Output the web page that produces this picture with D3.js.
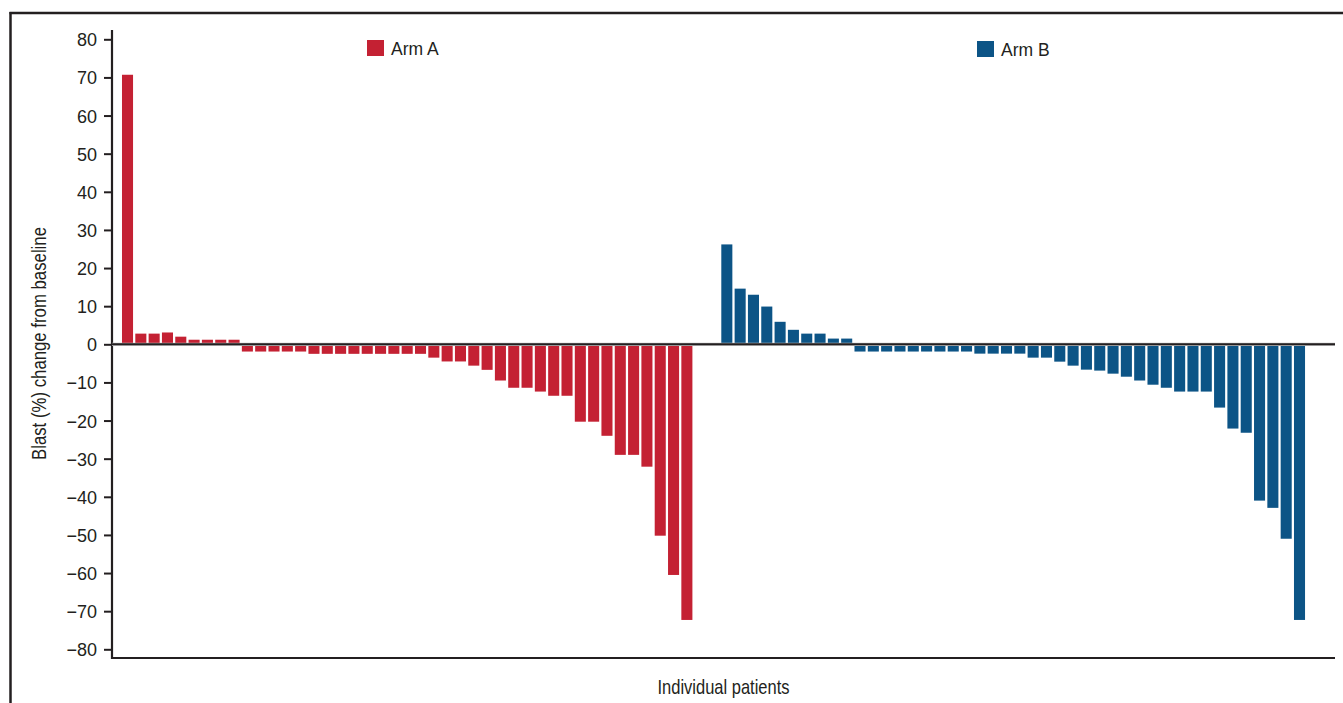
<!DOCTYPE html>
<html>
<head>
<meta charset="utf-8">
<script src="https://cdn.jsdelivr.net/npm/d3@7/dist/d3.min.js"></script>
<style>
  html, body { margin: 0; padding: 0; background: #ffffff; }
  svg { display: block; }
  .tick text { font-family: "Liberation Sans", Arial, Helvetica, sans-serif; font-size: 18px; fill: #231f20; }
</style>
</head>
<body>
<svg id="chart" width="1343" height="703"></svg>
<script>
// Blast percentage change from baseline, one bar per patient, sorted within each arm
const armA = [70.7, 2.8, 2.8, 3.1, 2.0, 1.2, 1.2, 1.2, 1.2,
  -1.9, -1.9, -1.9, -1.9, -1.9,
  -2.5, -2.5, -2.5, -2.5, -2.5, -2.5, -2.5, -2.5, -2.5,
  -3.5, -4.5, -4.5, -5.6, -6.7, -9.5, -11.4, -11.4, -12.4, -13.5, -13.5,
  -20.3, -20.3, -24.0, -29.0, -29.0, -32.1, -50.2, -60.5, -72.3];

const armB = [26.2, 14.6, 13.0, 9.9, 5.9, 3.8, 2.8, 2.8, 1.5, 1.5,
  -1.9, -1.9, -1.9, -1.9, -1.9, -1.9, -1.9, -1.9, -1.9,
  -2.45, -2.45, -2.45, -2.45, -3.5, -3.5,
  -4.55, -5.6, -6.65, -6.9, -7.7, -8.5, -9.5, -10.6, -11.4,
  -12.4, -12.4, -12.4, -16.6, -22.1, -23.2, -41.0, -42.9, -51.0, -72.3];

const armNames = ["Arm A", "Arm B"];
const armColors = ["#c42133", "#0c5486"];
const yTicks = [80, 70, 60, 50, 40, 30, 20, 10, 0, -10, -20, -30, -40, -50, -60, -70, -80];
const yTitle = "Blast (%) change from baseline";
const xTitle = "Individual patients";

// Patient slots: arm A, two empty spacer slots, then arm B
const bars = [
  ...armA.map((v, i) => ({ id: "A" + i, arm: 0, value: v })),
  ...armB.map((v, i) => ({ id: "B" + i, arm: 1, value: v }))
];
const slots = [...armA.map((_, i) => "A" + i), "gap0", "gap1", ...armB.map((_, i) => "B" + i)];

const svg = d3.select("#chart");
const ink = "#231f20";

const plotLeft = 112, plotRight = 1335, plotTop = 30, plotBottom = 658;

const x = d3.scaleBand()
  .domain(slots)
  .range([plotLeft, plotRight])
  .paddingInner(0.17)
  .paddingOuter(1.5)
  .align(0.25);

const y = d3.scaleLinear()
  .domain([-80, 80])
  .range([649.3, 39.3]);

// Outer figure frame (top and left edges)
svg.append("line")
  .attr("x1", 9.5).attr("x2", 1343).attr("y1", 13).attr("y2", 13)
  .attr("stroke", ink).attr("stroke-width", 2.5);
svg.append("line")
  .attr("x1", 10.5).attr("x2", 10.5).attr("y1", 12).attr("y2", 703)
  .attr("stroke", ink).attr("stroke-width", 2.5);

// Bars
svg.append("g")
  .selectAll("rect")
  .data(bars)
  .join("rect")
  .attr("x", d => x(d.id))
  .attr("width", x.bandwidth())
  .attr("y", d => y(Math.max(0, d.value)))
  .attr("height", d => Math.abs(y(d.value) - y(0)))
  .attr("fill", d => armColors[d.arm]);

// Y axis
const yAxis = d3.axisLeft(y)
  .tickValues(yTicks)
  .tickSize(8)
  .tickPadding(7)
  .tickFormat(d3.format("d"));

const yg = svg.append("g")
  .attr("transform", `translate(${plotLeft},0)`)
  .call(yAxis);
yg.select(".domain").remove();
yg.selectAll(".tick line").attr("stroke", ink).attr("stroke-width", 2);
yg.selectAll(".tick text").attr("dy", "0.36em");

svg.append("line")
  .attr("x1", plotLeft).attr("x2", plotLeft)
  .attr("y1", plotTop).attr("y2", plotBottom + 1)
  .attr("stroke", ink).attr("stroke-width", 2.2);

// Zero reference line
svg.append("line")
  .attr("x1", plotLeft).attr("x2", plotRight)
  .attr("y1", y(0)).attr("y2", y(0))
  .attr("stroke", "#bfbfbf").attr("stroke-width", 3.2);
svg.append("line")
  .attr("x1", plotLeft).attr("x2", plotRight)
  .attr("y1", y(0)).attr("y2", y(0))
  .attr("stroke", ink).attr("stroke-width", 2);

// X axis baseline
svg.append("line")
  .attr("x1", plotLeft - 1).attr("x2", plotRight)
  .attr("y1", plotBottom).attr("y2", plotBottom)
  .attr("stroke", ink).attr("stroke-width", 2.2);

// Legend
const legendPos = [[367, 40], [977, 41]];
const legend = svg.append("g")
  .selectAll("g")
  .data(armNames)
  .join("g")
  .attr("transform", (d, i) => `translate(${legendPos[i][0]},${legendPos[i][1]})`);
legend.append("rect")
  .attr("width", 17).attr("height", 16)
  .attr("fill", (d, i) => armColors[i]);
legend.append("text")
  .attr("x", 24).attr("y", 14.5)
  .attr("font-family", "Liberation Sans, Arial, Helvetica, sans-serif")
  .attr("font-size", 17.5)
  .attr("fill", ink)
  .text(d => d);

// Axis titles (condensed lettering)
svg.append("text")
  .attr("x", (plotLeft + plotRight) / 2 - 66)
  .attr("y", 694)
  .attr("font-family", "Liberation Sans Narrow, Arial Narrow, Liberation Sans, sans-serif")
  .attr("font-size", 21)
  .attr("fill", ink)
  .attr("textLength", 132)
  .attr("lengthAdjust", "spacingAndGlyphs")
  .text(xTitle);

svg.append("text")
  .attr("transform", `translate(46,${(plotTop + plotBottom) / 2 + 116}) rotate(-90)`)
  .attr("font-family", "Liberation Sans Narrow, Arial Narrow, Liberation Sans, sans-serif")
  .attr("font-size", 20.5)
  .attr("fill", ink)
  .attr("textLength", 233)
  .attr("lengthAdjust", "spacingAndGlyphs")
  .text(yTitle);
</script>
</body>
</html>
